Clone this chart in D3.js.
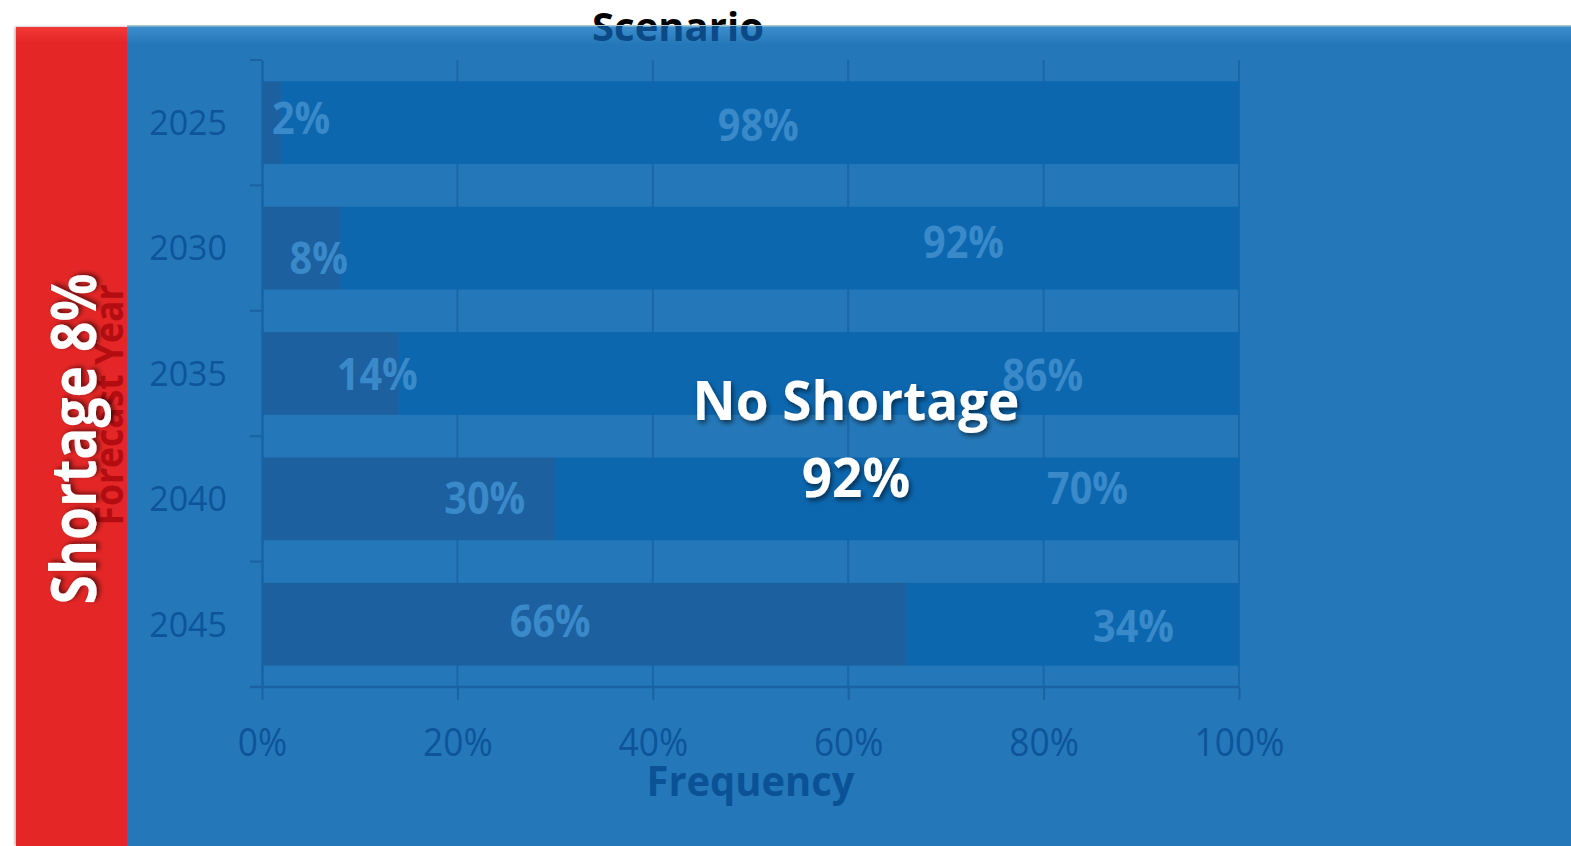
<!DOCTYPE html>
<html>
<head>
<meta charset="utf-8">
<script src="https://cdn.jsdelivr.net/npm/d3@7"></script>
<style>
  html, body { margin: 0; padding: 0; background: #fff; }
  svg { display: block; font-family: "Open Sans", "DejaVu Sans", sans-serif; }
</style>
</head>
<body>
<svg class="chart" width="1571" height="846"></svg>
<script>
// data
var years = ["2025", "2030", "2035", "2040", "2045"];
var shortage = [2, 8, 14, 30, 66];
var noShortage = [98, 92, 86, 70, 34];
var xTicks = [0, 20, 40, 60, 80, 100];

// where the value labels sit (percent along the bar, px nudge up/down)
var shortLabelAt = [[4.0, -5], [5.8, 10], [11.8, 0], [22.8, -1], [29.5, -3]];
var noShortLabelAt = [[50.8, 2], [71.8, -6], [79.9, 1.5], [84.5, -11], [89.2, 2]];

var W = 1571, H = 846,
    margin = {top: 60, left: 262, right: 1239, bottom: 687},
    chart = d3.select("svg.chart");

var defs = chart.append("defs");
var gb = defs.append("linearGradient").attr("id", "topBlue").attr("x1", 0).attr("y1", 0).attr("x2", 0).attr("y2", 1);
gb.append("stop").attr("offset", "0%").attr("stop-color", "#3d8ecd");
gb.append("stop").attr("offset", "100%").attr("stop-color", "#2478b9");
var gr = defs.append("linearGradient").attr("id", "topRed").attr("x1", 0).attr("y1", 0).attr("x2", 0).attr("y2", 1);
gr.append("stop").attr("offset", "0%").attr("stop-color", "#f03a36");
gr.append("stop").attr("offset", "100%").attr("stop-color", "#e42526");
var sh = defs.append("filter").attr("id", "shadow").attr("x", "-20%").attr("y", "-20%").attr("width", "140%").attr("height", "140%");
sh.append("feDropShadow").attr("dx", 2).attr("dy", 3).attr("stdDeviation", 2.5)
  .attr("flood-color", "#000").attr("flood-opacity", 0.55);
var ps = defs.append("filter").attr("id", "panelShadow").attr("x", "-5%").attr("y", "-5%").attr("width", "110%").attr("height", "110%");
ps.append("feDropShadow").attr("dx", -1).attr("dy", 0).attr("stdDeviation", 1.5)
  .attr("flood-color", "#000").attr("flood-opacity", 0.35);
defs.append("clipPath").attr("id", "panelClip")
  .append("rect").attr("x", 0).attr("y", 26).attr("width", W).attr("height", H);

// title (drawn first, panel covers lower part)
chart.append("text").attr("x", 678).attr("y", 41).attr("text-anchor", "middle")
  .attr("font-size", 40).attr("font-weight", "bold").attr("fill", "#000")
  .text("Scenario");

// panels
chart.append("rect").attr("x", 16).attr("y", 27).attr("width", 112).attr("height", H - 27)
  .attr("fill", "#e42526").attr("filter", "url(#panelShadow)");
chart.append("rect").attr("x", 16).attr("y", 27).attr("width", 112).attr("height", 16).attr("fill", "url(#topRed)");
chart.append("rect").attr("x", 127).attr("y", 26).attr("width", W - 127).attr("height", H - 26).attr("fill", "#2478b9");
chart.append("rect").attr("x", 127).attr("y", 26).attr("width", W - 127).attr("height", 18).attr("fill", "url(#topBlue)");
chart.append("rect").attr("x", 127).attr("y", 25).attr("width", W - 127).attr("height", 1.5).attr("fill", "#a8c8cc");

chart.append("text").attr("x", 678).attr("y", 41).attr("text-anchor", "middle")
  .attr("font-size", 40).attr("font-weight", "bold").attr("fill", "#0b4a86")
  .attr("clip-path", "url(#panelClip)")
  .text("Scenario");

// scales
var xScale = d3.scaleLinear().domain([0, 100]).range([margin.left, margin.right]);
var yScale = d3.scaleBand().domain(years).range([margin.top, margin.bottom])
  .paddingInner(0.34).paddingOuter(0.17);

// gridlines
chart.append("g").selectAll("line").data(xTicks.slice(1)).enter().append("line")
  .attr("x1", function(d) { return xScale(d); }).attr("x2", function(d) { return xScale(d); })
  .attr("y1", margin.top).attr("y2", margin.bottom)
  .attr("stroke", "#1966a9").attr("stroke-width", 2);

// bars
var rows = years.map(function(y, i) { return {year: y, s: shortage[i], n: noShortage[i], i: i}; });
chart.append("g").selectAll("rect").data(rows).enter().append("rect")
  .attr("x", function(d) { return xScale(0); })
  .attr("width", function(d) { return xScale(d.s) - xScale(0); })
  .attr("y", function(d) { return yScale(d.year); })
  .attr("height", yScale.bandwidth())
  .attr("fill", "#1c60a0");
chart.append("g").selectAll("rect").data(rows).enter().append("rect")
  .attr("x", function(d) { return xScale(d.s); })
  .attr("width", function(d) { return xScale(d.s + d.n) - xScale(d.s); })
  .attr("y", function(d) { return yScale(d.year); })
  .attr("height", yScale.bandwidth())
  .attr("fill", "#0c67af");

// axes
var xAxis = d3.axisBottom(xScale).tickValues(xTicks).tickSize(13).tickSizeOuter(0)
  .tickFormat(function(d) { return d + "%"; });
var yAxis = d3.axisLeft(yScale).tickSize(0).tickPadding(35);

var xg = chart.append("g").attr("transform", "translate(0," + margin.bottom + ")").call(xAxis);
xg.select(".domain").attr("stroke", "#1a62a4").attr("stroke-width", 2.5)
  .attr("d", "M" + (margin.left - 12) + ",0H" + margin.right);
xg.selectAll(".tick line").attr("stroke", "#1a62a4").attr("stroke-width", 2);
xg.selectAll(".tick text").attr("y", 0).attr("dy", 0)
  .attr("font-size", 38).attr("fill", "#0d549b").attr("font-family", "Open Sans")
  .attr("transform", "translate(0,69) scale(0.93,1)");

var yg = chart.append("g").attr("transform", "translate(" + margin.left + ",0)").call(yAxis);
yg.select(".domain").attr("stroke", "#1a62a4").attr("stroke-width", 2.5);
yg.selectAll(".tick text").attr("font-size", 34).attr("fill", "#0d549b")
  .attr("font-family", "Open Sans").attr("dy", "0.36em");

// y ticks sit on band boundaries
var bounds = years.map(function(y) { return yScale(y) - yScale.step() * 0.17; });
bounds.push(margin.bottom);
chart.append("g").selectAll("line").data(bounds).enter().append("line")
  .attr("x1", margin.left - 12).attr("x2", margin.left)
  .attr("y1", function(d) { return d; }).attr("y2", function(d) { return d; })
  .attr("stroke", "#1a62a4").attr("stroke-width", 2);

// value labels
function valueLabels(vals, pos) {
  chart.append("g").selectAll("text").data(vals).enter().append("text")
    .attr("text-anchor", "middle")
    .attr("font-size", 45).attr("font-weight", "bold").attr("fill", "#3a89c9")
    .attr("transform", function(d, i) {
      var x = xScale(pos[i][0]), y = yScale(years[i]) + yScale.bandwidth() / 2 + pos[i][1] + 16;
      return "translate(" + x + "," + y + ") scale(0.88,1)";
    })
    .text(function(d) { return d + "%"; });
}
valueLabels(shortage, shortLabelAt);
valueLabels(noShortage, noShortLabelAt);

// axis titles
chart.append("text").attr("text-anchor", "middle")
  .attr("transform", "translate(" + ((margin.left + margin.right) / 2) + ",796) scale(0.95,1)")
  .attr("font-size", 42).attr("font-weight", "bold").attr("fill", "#0b5196")
  .text("Frequency");

chart.append("text").attr("text-anchor", "middle")
  .attr("transform", "translate(123,405) rotate(-90) scale(0.91,1)")
  .attr("font-size", 39).attr("font-weight", "bold").attr("fill", "#b30d12")
  .text("Forecast Year");

// scenario callouts
chart.append("text").attr("text-anchor", "middle")
  .attr("transform", "translate(96,439) rotate(-90) scale(0.86,1)")
  .attr("font-size", 62).attr("font-weight", "bold").attr("fill", "#fff")
  .attr("filter", "url(#shadow)")
  .text("Shortage " + shortage[1] + "%");

var callout = chart.append("text").attr("text-anchor", "middle")
  .attr("font-size", 53).attr("font-weight", "bold").attr("fill", "#fff")
  .attr("filter", "url(#shadow)");
callout.append("tspan").attr("x", 856).attr("y", 420).text("No Shortage");
callout.append("tspan").attr("x", 856).attr("y", 497).text(noShortage[1] + "%");
</script>
</body>
</html>
